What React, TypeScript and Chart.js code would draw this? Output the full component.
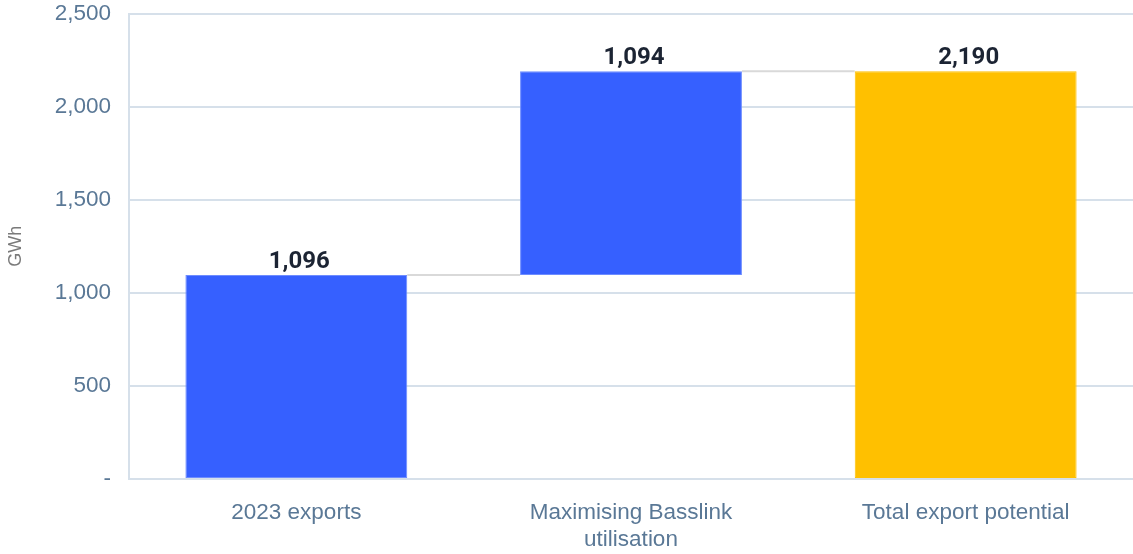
import React, { useEffect, useRef } from "react";
import { Chart, registerables } from "chart.js";

Chart.register(...registerables);

const categories: (string | string[])[] = ["2023 exports", ["Maximising Basslink", "utilisation"], "Total export potential"];
const barStarts = [0, 1096, 0];
const barEnds = [1096, 2190, 2190];
const barLabels = ["1,096", "1,094", "2,190"];
const barColors = ["#3660ff", "#3660ff", "#ffc000"];
const yTicks = [0, 500, 1000, 1500, 2000, 2500];

const connectorPlugin = {
  id: "connectors",
  afterDatasetsDraw(chart: any) {
    const ctx = chart.ctx;
    const meta = chart.getDatasetMeta(0);
    const y = chart.scales.y;
    ctx.save();
    ctx.strokeStyle = "#d9d9d9";
    ctx.lineWidth = 2;
    for (let i = 0; i < meta.data.length - 1; i++) {
      const a = meta.data[i];
      const b = meta.data[i + 1];
      const yy = y.getPixelForValue(barEnds[i]);
      ctx.beginPath();
      ctx.moveTo(a.x + a.width / 2, yy);
      ctx.lineTo(b.x - b.width / 2, yy);
      ctx.stroke();
    }
    ctx.fillStyle = "#1c2433";
    ctx.font = "bold 24px Roboto, 'Liberation Sans', sans-serif";
    ctx.textAlign = "center";
    ctx.textBaseline = "bottom";
    meta.data.forEach((bar: any, i: number) => {
      const top = y.getPixelForValue(barEnds[i]);
      ctx.fillText(barLabels[i], bar.x + 3, top - 1);
    });
    ctx.restore();
  },
};

export default function App() {
  const ref = useRef<HTMLCanvasElement>(null);
  useEffect(() => {
    document.body.style.margin = "0";
    const chart = new Chart(ref.current!, {
      type: "bar",
      data: {
        labels: categories as any,
        datasets: [
          {
            data: barStarts.map((s, i) => [s, barEnds[i]]) as any,
            backgroundColor: barColors,
            borderColor: ["#6d8cff", "#6d8cff", "#ffc000"],
            borderWidth: 1,
            borderSkipped: false,
            barPercentage: 0.663,
            categoryPercentage: 1,
          },
        ],
      },
      options: {
        animation: false,
        responsive: true,
        maintainAspectRatio: false,
        layout: { padding: { top: 0, right: 0, left: 0, bottom: 0 } },
        plugins: { legend: { display: false }, tooltip: { enabled: false } },
        scales: {
          x: {
            grid: { display: false, drawTicks: false },
            border: { display: true, color: "#d6e0ea", width: 2 },
            ticks: {
              color: "#5a7896",
              font: { family: "'Liberation Sans', Arial, sans-serif", size: 22.5 },
              padding: 20,
              maxRotation: 0,
            },
            afterFit(scale: any) {
              scale.height = 75;
            },
          },
          y: {
            min: 0,
            max: 2500,
            afterBuildTicks(scale: any) {
              scale.ticks = yTicks.map((v) => ({ value: v }));
            },
            grid: { color: "#d6e0ea", lineWidth: 2, drawTicks: false },
            border: { display: true, color: "#d6e0ea", width: 2 },
            ticks: {
              color: "#5a7896",
              font: { family: "'Liberation Sans', Arial, sans-serif", size: 22.5 },
              padding: 18,
              callback: (v: any) => (Number(v) === 0 ? "-" : Number(v).toLocaleString("en-US")),
            },
            title: {
              display: true,
              text: "GWh",
              color: "#7a7a7a",
              font: { family: "'Liberation Sans', Arial, sans-serif", size: 18 },
              padding: { top: 5, bottom: 0 },
            },
            afterFit(scale: any) {
              scale.width = 129;
            },
          },
        },
      },
      plugins: [connectorPlugin],
    });
    return () => chart.destroy();
  }, []);
  return (
    <div style={{ position: "fixed", left: 0, top: -18, width: 1133, height: 572 }}>
      <canvas ref={ref} />
    </div>
  );
}
